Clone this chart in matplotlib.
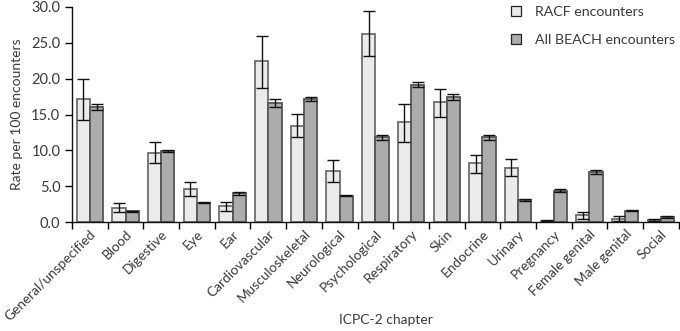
import matplotlib.pyplot as plt
import numpy as np

# ICPC-2 chapters, rates per 100 encounters with 95% CI
chapters = ['General/unspecified', 'Blood', 'Digestive', 'Eye', 'Ear', 'Cardiovascular',
            'Musculoskeletal', 'Neurological', 'Psychological', 'Respiratory', 'Skin',
            'Endocrine', 'Urinary', 'Pregnancy', 'Female genital', 'Male genital', 'Social']
racf = [17.1, 2.0, 9.6, 4.6, 2.2, 22.4, 13.4, 7.1, 26.2, 13.9, 16.7, 8.3, 7.6, 0.2, 1.0, 0.5, 0.3]
racf_lo = [14.3, 1.4, 8.2, 3.6, 1.6, 18.7, 11.9, 5.6, 23.2, 11.1, 14.7, 6.8, 6.4, 0.1, 0.5, 0.1, 0.2]
racf_hi = [19.9, 2.6, 11.1, 5.6, 2.8, 26.0, 15.1, 8.6, 29.4, 16.5, 18.5, 9.4, 8.8, 0.3, 1.4, 0.9, 0.4]
beach = [16.1, 1.5, 9.9, 2.7, 4.0, 16.6, 17.2, 3.7, 11.8, 19.1, 17.4, 11.8, 3.1, 4.4, 7.0, 1.6, 0.7]
beach_lo = [15.6, 1.4, 9.8, 2.6, 3.8, 16.1, 16.9, 3.6, 11.5, 18.8, 17.0, 11.5, 3.0, 4.2, 6.7, 1.5, 0.6]
beach_hi = [16.5, 1.6, 10.0, 2.8, 4.2, 17.1, 17.5, 3.8, 12.1, 19.6, 17.9, 12.1, 3.2, 4.6, 7.3, 1.7, 0.8]
yticks = [0, 5, 10, 15, 20, 25, 30]

plt.rcParams['font.family'] = ['Lato', 'DejaVu Sans']
txt = '#3a3a3a'

fig = plt.figure(figsize=(6.8, 3.31), dpi=100)
ax = fig.add_axes([0.106, 0.329, 0.892, 0.65])

x = np.arange(len(chapters))
w = 0.37
r = np.array(racf)
b = np.array(beach)
err_r = [r - np.array(racf_lo), np.array(racf_hi) - r]
err_b = [b - np.array(beach_lo), np.array(beach_hi) - b]

ax.bar(x - w / 2, racf, w, color='#ebebeb', edgecolor='#6e6e6e', linewidth=1.3,
       label='RACF encounters', zorder=2)
ax.bar(x + w / 2, beach, w, color='#acacac', edgecolor='#555555', linewidth=1.3,
       label='All BEACH encounters', zorder=2)
ax.errorbar(x - w / 2, racf, yerr=err_r, fmt='none', ecolor='#111111', elinewidth=1.0,
            capsize=4.5, capthick=1.0, zorder=3)
ax.errorbar(x + w / 2, beach, yerr=err_b, fmt='none', ecolor='#111111', elinewidth=1.0,
            capsize=4.5, capthick=1.0, zorder=3)

ax.set_xlim(-0.5, len(chapters) - 0.5)
ax.set_ylim(0, 30)
ax.set_yticks(yticks)
ax.set_yticklabels(['%.1f' % v for v in yticks], fontsize=10.5, color=txt)
ax.set_xticks(np.arange(len(chapters) + 1) - 0.5)
ax.set_xticklabels([])
ax.set_xticks(x, minor=True)
ax.set_xticklabels(chapters, minor=True, rotation=45, ha='right', rotation_mode='anchor',
                   fontsize=9.8, color=txt)
ax.tick_params(axis='x', which='minor', length=0, pad=4)
ax.tick_params(axis='x', which='major', length=5, direction='out', width=1)
ax.tick_params(axis='y', length=5, direction='out', width=1)
for s in ['top', 'right']:
    ax.spines[s].set_visible(False)
for s in ['left', 'bottom']:
    ax.spines[s].set_linewidth(1.0)
    ax.spines[s].set_color('#111111')

ax.set_ylabel('Rate per 100 encounters', fontsize=10, color=txt, labelpad=6)
fig.text(0.567, 0.022, 'ICPC-2 chapter', ha='center', fontsize=10, color=txt)

leg = ax.legend(loc='upper right', bbox_to_anchor=(1.015, 1.065), frameon=False, fontsize=10.2,
                handlelength=0.7, handleheight=0.7, handletextpad=1.0, labelspacing=1.15)
for t in leg.get_texts():
    t.set_color(txt)
for h in leg.legend_handles:
    h.set_edgecolor('#222222')
    h.set_linewidth(0.9)

fig.savefig('out.png', dpi=100)
